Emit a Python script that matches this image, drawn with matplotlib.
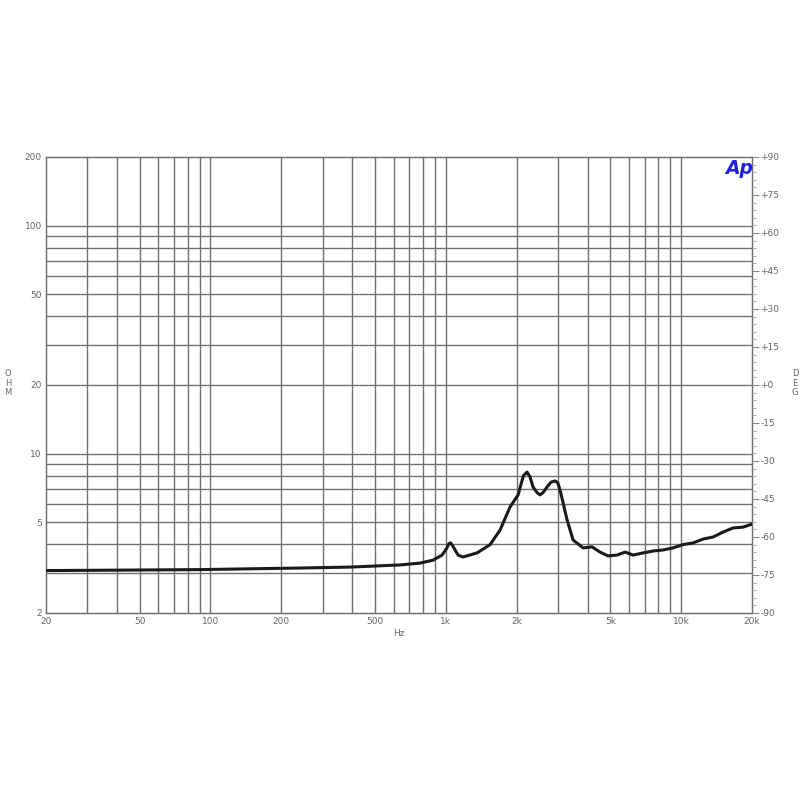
import numpy as np
import matplotlib.pyplot as plt
from matplotlib.ticker import FixedLocator, MultipleLocator, NullFormatter

# impedance curve
freq_hz = [20, 34, 90, 240, 392, 639, 776, 882, 964, 1010, 1030, 1048, 1068, 1127, 1183,
           1358, 1542, 1700, 1874, 2028, 2136, 2214, 2280, 2348, 2440, 2514, 2590, 2692,
           2800, 2912, 2990, 3058, 3276, 3474, 3830, 4180, 4520, 4890, 5340, 5780, 6250,
           6890, 7600, 8380, 9240, 10180, 11240, 12400, 13680, 15080, 16620, 18320, 20000]
impedance_ohm = [3.07, 3.08, 3.10, 3.15, 3.18, 3.25, 3.31, 3.41, 3.59, 3.85, 4.03, 4.06,
                 3.95, 3.59, 3.52, 3.67, 3.99, 4.62, 5.83, 6.59, 8.00, 8.30, 7.90, 7.14,
                 6.75, 6.59, 6.75, 7.14, 7.50, 7.59, 7.45, 6.93, 5.12, 4.18, 3.86, 3.90,
                 3.70, 3.56, 3.59, 3.70, 3.59, 3.67, 3.74, 3.78, 3.86, 3.99, 4.06, 4.22,
                 4.31, 4.53, 4.72, 4.76, 4.91]

x_grid = [30, 40, 50, 60, 70, 80, 90, 100, 200, 300, 400, 500, 600, 700, 800, 900,
          1000, 2000, 3000, 4000, 5000, 6000, 7000, 8000, 9000, 10000]
x_ticks = [20, 50, 100, 200, 500, 1000, 2000, 5000, 10000, 20000]
x_labels = ["20", "50", "100", "200", "500", "1k", "2k", "5k", "10k", "20k"]
y_grid = [3, 4, 5, 6, 7, 8, 9, 10, 20, 30, 40, 50, 60, 70, 80, 90, 100]
y_ticks = [2, 5, 10, 20, 50, 100, 200]
deg_ticks = list(range(-90, 91, 15))

grey = "#666666"
fig = plt.figure(figsize=(8, 8), dpi=100)
ax = fig.add_axes([46 / 800, 1 - 613 / 800, 706 / 800, 456 / 800])
ax.set_xscale("log")
ax.set_yscale("log")
ax.set_xlim(20, 20000)
ax.set_ylim(2, 200)

for v in x_grid:
    ax.axvline(v, color="#707070", lw=1.0, zorder=1)
for v in y_grid:
    ax.axhline(v, color="#707070", lw=1.0, zorder=1)

ax.plot(freq_hz, impedance_ohm, color="#1a1a1a", lw=2.2, zorder=3,
        solid_joinstyle="round")

ax.xaxis.set_major_locator(FixedLocator(x_ticks))
ax.set_xticklabels(x_labels)
ax.xaxis.set_minor_formatter(NullFormatter())
ax.yaxis.set_major_locator(FixedLocator(y_ticks))
ax.set_yticklabels([str(v) for v in y_ticks])
ax.yaxis.set_minor_formatter(NullFormatter())
ax.tick_params(which="both", length=0, labelsize=6.5, labelcolor=grey, pad=3)
for s in ax.spines.values():
    s.set_color("#6a6a6a")
    s.set_linewidth(1.0)

ax2 = ax.twinx()
ax2.set_ylim(-90, 90)
ax2.yaxis.set_major_locator(FixedLocator(deg_ticks))
ax2.set_yticklabels([("+%d" % v) if v >= 0 else str(v) for v in deg_ticks])
ax2.yaxis.set_minor_locator(MultipleLocator(3))
ax2.tick_params(which="major", length=5, color="#8a8a8a", labelsize=6.5, labelcolor=grey, pad=1)
ax2.tick_params(which="minor", length=3, color="#a0a0a0")
for s in ax2.spines.values():
    s.set_visible(False)

fig.text(399 / 800, 1 - 634 / 800, "Hz", ha="center", va="center", fontsize=6.5, color=grey)
fig.text(8 / 800, 1 - 383 / 800, "O\nH\nM", ha="center", va="center", fontsize=6,
         color=grey, linespacing=1.1)
fig.text(795 / 800, 1 - 383 / 800, "D\nE\nG", ha="center", va="center", fontsize=6,
         color=grey, linespacing=1.1)
fig.text(739 / 800, 1 - 168 / 800, "Ap", ha="center", va="center", fontsize=13.5,
         fontweight="bold", style="italic", color="#1f1fe0")

fig.savefig("out.png", dpi=100, facecolor="white")
